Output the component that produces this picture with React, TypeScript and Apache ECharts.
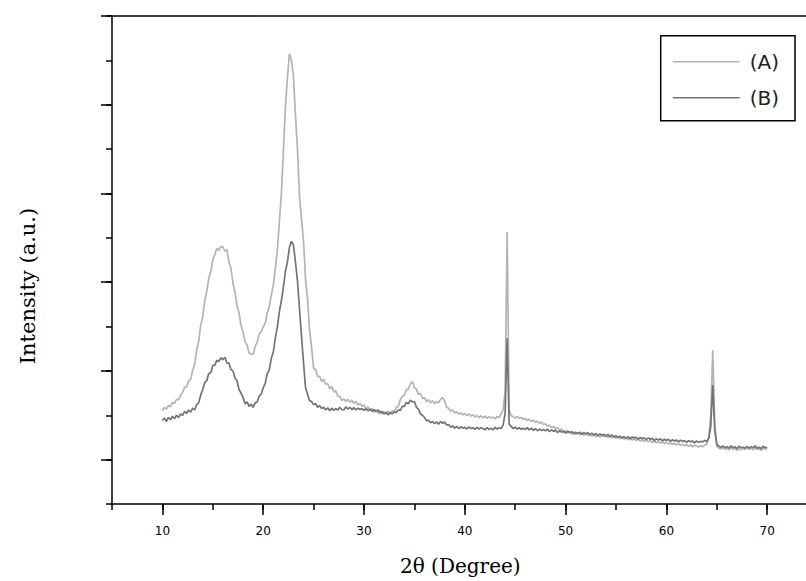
import React, { useEffect, useRef } from "react";
import * as echarts from "echarts";

// 2θ sampling of both patterns (degrees)
const ANGLE_START = 10;
const ANGLE_STEP = 0.2;

// Pattern (A), light trace, intensity in a.u. (10.0° → 70.0°, 0.2° steps)
const intensityA: number[] = [
  210, 218, 214, 222, 219, 229, 227, 236, 235, 245,
  252, 263, 264, 277, 281, 301, 315, 347, 367, 404,
  421, 459, 479, 509, 524, 551, 562, 576, 572, 580,
  579, 570, 573, 546, 531, 498, 478, 446, 431, 402,
  388, 365, 359, 340, 338, 337, 355, 365, 383, 388,
  399, 407, 431, 444, 471, 492, 531, 572, 635, 697,
  795, 893, 960, 1015, 1000, 965, 876, 800, 695, 642,
  594, 506, 462, 392, 353, 306, 303, 287, 288, 276,
  281, 270, 271, 260, 265, 253, 255, 243, 242, 233,
  237, 231, 236, 229, 234, 227, 231, 223, 227, 220,
  223, 215, 219, 211, 215, 207, 212, 205, 210, 203,
  207, 203, 209, 205, 210, 208, 218, 220, 235, 243,
  245, 258, 259, 271, 276, 262, 259, 247, 249, 238,
  240, 231, 235, 228, 233, 226, 231, 228, 236, 240,
  232, 218, 216, 209, 212, 205, 208, 203, 206, 201,
  204, 199, 203, 198, 201, 196, 200, 195, 199, 194,
  198, 193, 197, 194, 196, 192, 197, 195, 203, 212,
  255, 613, 212, 199, 197, 194, 197, 193, 195, 191,
  193, 188, 191, 186, 189, 184, 187, 182, 185, 179,
  181, 175, 178, 172, 175, 169, 172, 166, 169, 163,
  165, 160, 163, 158, 162, 157, 161, 156, 160, 155,
  158, 154, 157, 153, 156, 152, 155, 151, 154, 152,
  155, 150, 154, 149, 152, 148, 151, 147, 150, 146,
  149, 145, 148, 144, 147, 143, 146, 142, 145, 141,
  144, 140, 143, 139, 142, 138, 141, 137, 140, 136,
  139, 135, 138, 134, 137, 133, 136, 132, 135, 131,
  134, 130, 133, 129, 132, 131, 128, 132, 129, 133,
  135, 150, 200, 347, 180, 130, 126, 124, 127, 123,
  125, 122, 127, 123, 126, 121, 125, 122, 126, 123,
  127, 123, 126, 122, 127, 123, 125, 121, 126, 124,
  125,
];

// Pattern (B), dark trace
const intensityB: number[] = [
  188, 194, 186, 195, 190, 198, 192, 200, 195, 203,
  200, 209, 204, 212, 207, 216, 212, 224, 228, 246,
  258, 274, 278, 294, 296, 312, 313, 324, 321, 330,
  325, 331, 318, 318, 303, 300, 284, 278, 258, 250,
  240, 226, 230, 220, 225, 218, 228, 230, 243, 248,
  262, 272, 294, 302, 328, 342, 374, 398, 433, 458,
  488, 524, 545, 578, 592, 584, 545, 503, 440, 378,
  318, 262, 248, 233, 231, 224, 226, 218, 222, 215,
  218, 212, 217, 210, 216, 211, 215, 212, 218, 213,
  212, 219, 214, 218, 213, 217, 212, 216, 213, 215,
  211, 215, 210, 214, 209, 213, 208, 212, 205, 209,
  203, 207, 201, 206, 203, 208, 206, 212, 211, 220,
  220, 229, 226, 234, 230, 231, 218, 214, 203, 200,
  195, 188, 189, 183, 186, 181, 185, 180, 186, 182,
  185, 178, 179, 173, 176, 171, 175, 170, 174, 171,
  173, 169, 174, 170, 172, 168, 173, 169, 172, 170,
  167, 172, 168, 171, 167, 173, 169, 172, 170, 178,
  205, 374, 180, 175, 170, 173, 169, 172, 168, 171,
  168, 172, 167, 171, 166, 170, 165, 169, 166, 168,
  165, 169, 163, 167, 164, 166, 161, 165, 162, 164,
  160, 164, 161, 163, 158, 162, 159, 162, 157, 161,
  158, 161, 156, 160, 155, 159, 154, 158, 155, 157,
  153, 157, 152, 156, 151, 154, 150, 153, 149, 152,
  148, 152, 147, 151, 149, 150, 146, 150, 147, 149,
  145, 149, 146, 148, 143, 147, 144, 147, 142, 146,
  143, 146, 141, 145, 142, 144, 140, 144, 141, 143,
  139, 143, 140, 142, 138, 142, 139, 141, 140, 143,
  141, 148, 175, 268, 165, 135, 130, 128, 131, 127,
  129, 126, 131, 127, 129, 125, 130, 127, 128, 126,
  130, 126, 129, 127, 131, 126, 128, 125, 130, 127,
  128,
];

const seriesNames = ["(A)", "(B)"];
const xTickValues = [10, 20, 30, 40, 50, 60, 70];
const xAxisName = "2θ (Degree)";
const yAxisName = "Intensity (a.u.)";

const toPairs = (vals: number[]) =>
  vals.map((v, i) => [Math.round((ANGLE_START + i * ANGLE_STEP) * 10) / 10, v]);

const AXIS_COLOR = "#000";
const CHART_W = 830;

export default function App() {
  const ref = useRef<HTMLDivElement>(null);
  useEffect(() => {
    if (!ref.current) return;
    const chart = echarts.init(ref.current, undefined, { renderer: "svg" });
    const tickLine = { lineStyle: { color: AXIS_COLOR, width: 1.5 } };
    chart.setOption({
      animation: false,
      backgroundColor: "#fff",
      grid: [
        { left: 112, top: 16, right: CHART_W - 817.6, bottom: 77 },
        { left: 162.4, top: 16, right: CHART_W - 767.2, bottom: 77 },
        { left: 112, top: 16, right: CHART_W - 817.6, bottom: 121.4 },
      ],
      xAxis: [
        {
          gridIndex: 0, type: "value", min: 5, max: 75, interval: 5, position: "bottom",
          axisLine: { show: true, onZero: false, lineStyle: { color: AXIS_COLOR, width: 1.5 } },
          axisTick: { show: true, length: 6, ...tickLine },
          axisLabel: { show: false }, splitLine: { show: false },
        },
        {
          gridIndex: 0, type: "value", min: 5, max: 75, position: "top",
          axisLine: { show: true, onZero: false, lineStyle: { color: AXIS_COLOR, width: 1.5 } },
          axisTick: { show: false }, axisLabel: { show: false }, splitLine: { show: false },
        },
        {
          gridIndex: 1, type: "value", min: xTickValues[0], max: xTickValues[xTickValues.length - 1],
          interval: 10, position: "bottom",
          axisLine: { show: false, onZero: false },
          axisTick: { show: true, length: 11, ...tickLine },
          axisLabel: {
            show: true, margin: 21, color: "#000", fontSize: 12, fontFamily: "DejaVu Sans",
          },
          splitLine: { show: false },
          name: xAxisName, nameLocation: "middle", nameGap: 52,
          nameTextStyle: { fontFamily: "DejaVu Serif", fontSize: 20, color: "#000", padding: [0, 9, 0, 0] },
        },
        { gridIndex: 2, type: "value", min: 5, max: 75, show: false },
      ],
      yAxis: [
        {
          gridIndex: 0, type: "value", min: 0, max: 1100, interval: 100,
          axisLine: { show: true, onZero: false, lineStyle: { color: AXIS_COLOR, width: 1.5 } },
          axisTick: { show: true, length: 6, ...tickLine },
          axisLabel: { show: false }, splitLine: { show: false },
        },
        { gridIndex: 1, type: "value", min: 0, max: 1100, show: false },
        {
          gridIndex: 2, type: "value", min: 0, max: 1000, interval: 200,
          axisLine: { show: false, onZero: false },
          axisTick: { show: true, length: 11, ...tickLine },
          axisLabel: { show: false }, splitLine: { show: false },
        },
      ],
      legend: {
        orient: "vertical", left: 660.7, top: 35.7,
        padding: [15, 16, 12, 12], itemGap: 14, itemWidth: 67, itemHeight: 1.5,
        icon: "rect", borderColor: "#000", borderWidth: 1.5,
        textStyle: { fontFamily: "DejaVu Sans", fontSize: 20, color: "#222", lineHeight: 22, padding: [0, 0, 0, 5] },
        data: seriesNames,
      },
      graphic: [
        {
          type: "text", x: 27.5, y: 286, rotation: Math.PI / 2,
          style: {
            text: yAxisName, fill: "#000", font: "21px 'DejaVu Serif'",
            textAlign: "center", textVerticalAlign: "middle",
          },
        },
      ],
      series: [
        {
          name: seriesNames[0], type: "line", xAxisIndex: 0, yAxisIndex: 0,
          data: toPairs(intensityA), showSymbol: false, symbol: "none",
          lineStyle: { color: "#b4b4b4", width: 1.7 }, itemStyle: { color: "#b4b4b4" }, z: 2,
        },
        {
          name: seriesNames[1], type: "line", xAxisIndex: 0, yAxisIndex: 0,
          data: toPairs(intensityB), showSymbol: false, symbol: "none",
          lineStyle: { color: "#747474", width: 1.7 }, itemStyle: { color: "#747474" }, z: 3,
        },
      ],
    });
    return () => chart.dispose();
  }, []);
  return (
    <div style={{ position: "fixed", left: 0, top: 0, width: 806, height: 581, overflow: "hidden", background: "#fff" }}>
      <div ref={ref} style={{ width: CHART_W, height: 581 }} />
    </div>
  );
}
